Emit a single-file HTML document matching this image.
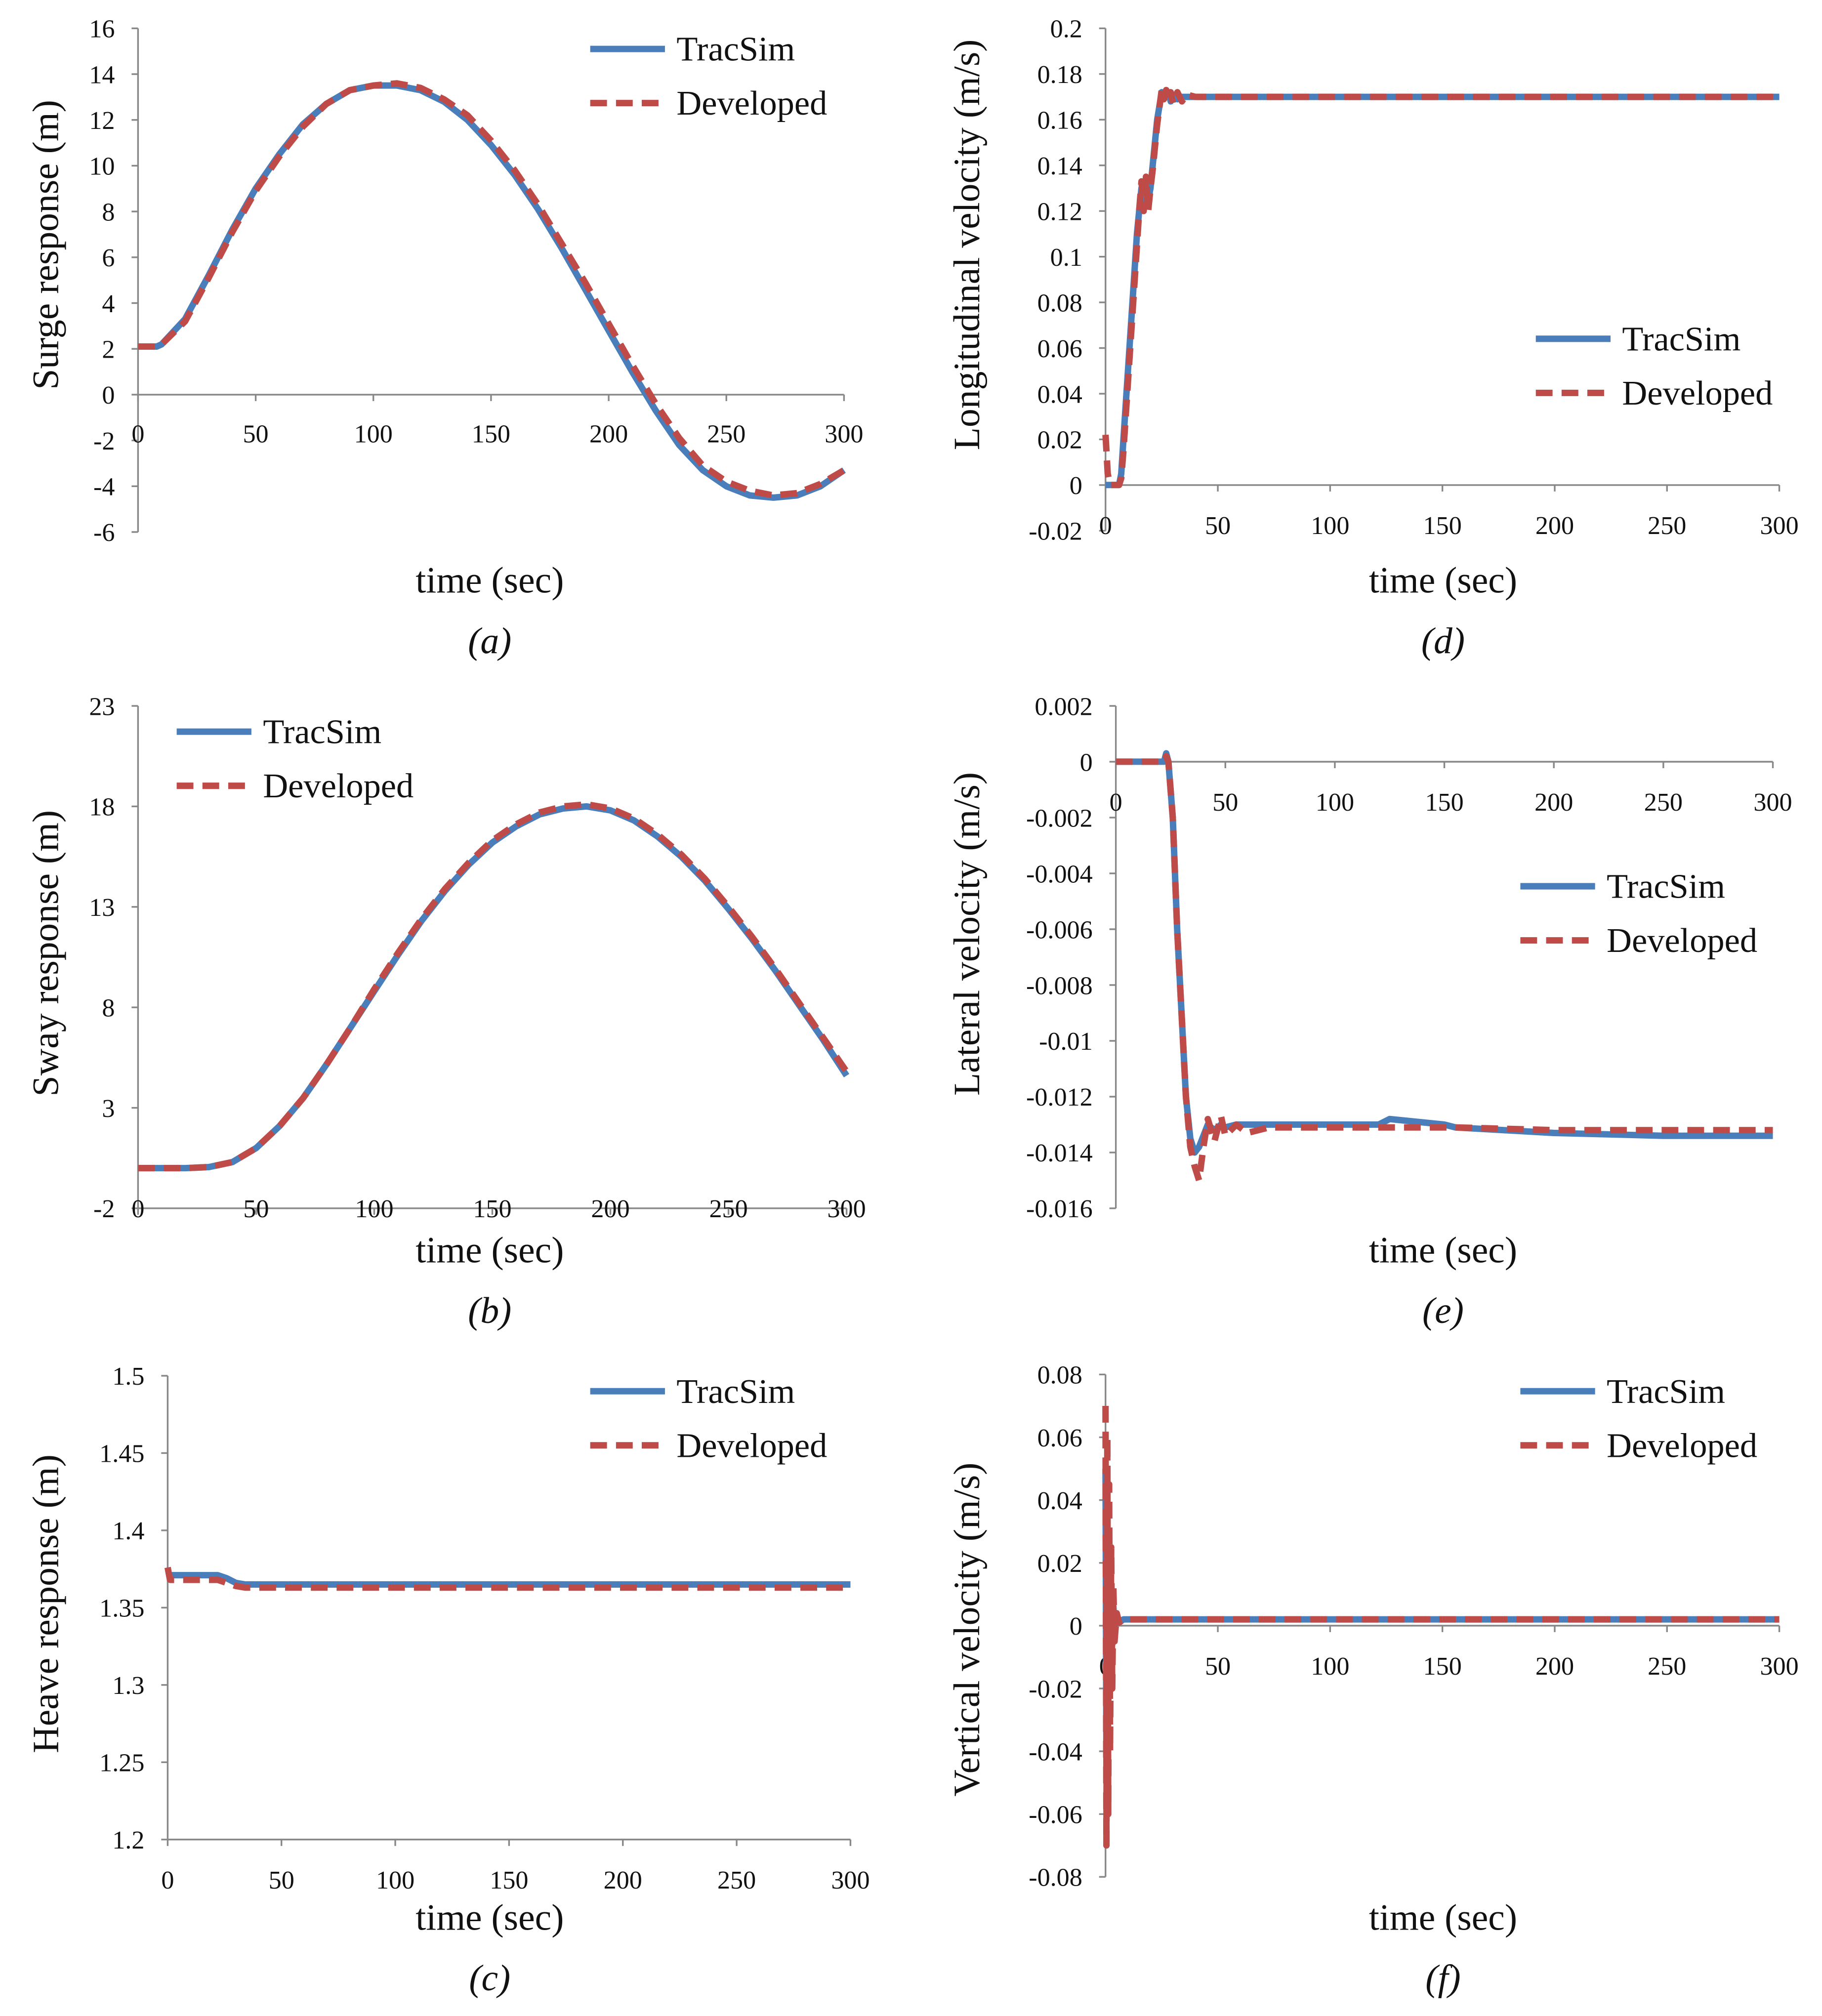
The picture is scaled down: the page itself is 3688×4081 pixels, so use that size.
<!DOCTYPE html>
<html><head><meta charset="utf-8"><style>
html,body{margin:0;padding:0;background:#fff}
svg{display:block}
text{font-family:"Liberation Serif",serif;fill:#111}
.tick{font-size:20px}
.title{font-size:29px}
.leg{font-size:27px}
</style></head><body>
<svg id="fig" width="3688" height="4081" viewBox="0 0 1414 1565" xmlns="http://www.w3.org/2000/svg"></svg>
<script>
// ---- data ----
const surgeT=[0,8,10,20,30,40,50,60,70,80,90,100,110,120,130,140,150,160,170,180,190,200,210,220,230,240,250,260,270,280,290,300];
const surgeTrac=[2.1,2.1,2.2,3.3,5.2,7.2,9.0,10.5,11.8,12.7,13.3,13.5,13.5,13.3,12.8,12.0,10.9,9.6,8.1,6.4,4.6,2.8,1.0,-0.7,-2.2,-3.3,-4.0,-4.4,-4.5,-4.4,-4.0,-3.3];
const surgeDev=[2.1,2.1,2.2,3.2,5.1,7.1,8.9,10.4,11.7,12.7,13.3,13.5,13.6,13.4,12.9,12.2,11.1,9.8,8.3,6.6,4.9,3.1,1.3,-0.4,-1.9,-3.1,-3.8,-4.2,-4.4,-4.3,-3.9,-3.3];
const swayT=[0,10,20,30,40,50,60,70,80,90,100,110,120,130,140,150,160,170,180,190,200,210,220,230,240,250,260,270,280,290,300];
const swayTrac=[0,0,0,0.05,0.3,1.0,2.1,3.5,5.2,7.0,8.8,10.6,12.3,13.8,15.1,16.2,17.0,17.6,17.9,18.0,17.8,17.3,16.5,15.5,14.3,12.9,11.4,9.8,8.1,6.4,4.6];
const swayDev=[0,0,0,0.05,0.3,1.0,2.1,3.5,5.2,7.0,8.9,10.7,12.4,13.9,15.2,16.3,17.1,17.7,18.0,18.1,17.9,17.4,16.6,15.6,14.4,13.0,11.5,9.9,8.2,6.5,4.8];
const heaveT=[0,1,2,22,26,30,34,300];
const heaveTrac=[1.37,1.371,1.371,1.371,1.369,1.366,1.365,1.365];
const heaveDev=[1.376,1.368,1.368,1.368,1.366,1.364,1.363,1.363];
const lonT=[0,1,2,4,6,7,8,10,12,14,15,16,17,18,19,20,21,23,25,26,27,28,29,30,32,34,36,40,300];
const lonTrac=[0,0,0,0,0,0.005,0.02,0.05,0.08,0.11,0.12,0.13,0.125,0.13,0.125,0.13,0.14,0.16,0.172,0.171,0.17,0.172,0.168,0.171,0.169,0.17,0.17,0.17,0.17];
const lonDev=[0.022,0.005,0,0,0,0.003,0.015,0.045,0.075,0.105,0.12,0.133,0.12,0.135,0.12,0.13,0.138,0.158,0.173,0.169,0.173,0.168,0.172,0.167,0.172,0.168,0.171,0.17,0.17];
const latT=[0,22,23,24,26,28,30,32,34,36,38,40,42,45,48,50,55,60,70,100,120,125,150,155,200,250,300];
const latTrac=[0,0,0.0003,0,-0.002,-0.006,-0.009,-0.012,-0.0135,-0.014,-0.0138,-0.0134,-0.013,-0.0132,-0.013,-0.0131,-0.013,-0.013,-0.013,-0.013,-0.013,-0.0128,-0.013,-0.0131,-0.0133,-0.0134,-0.0134];
const latDev=[0,0,0.0002,0,-0.002,-0.006,-0.009,-0.012,-0.0138,-0.0145,-0.015,-0.0138,-0.0128,-0.0136,-0.0127,-0.0134,-0.013,-0.0133,-0.0131,-0.0131,-0.0131,-0.0131,-0.0131,-0.0131,-0.0132,-0.0132,-0.0132];
const vertT=[0,0.4,0.8,1.2,1.6,2,2.5,3,3.5,4,5,6,8,300];
const vertTrac=[0.05,-0.045,0.04,-0.03,0.025,-0.015,0.012,-0.006,0.006,0,0.002,0.001,0.002,0.002];
const vertDev=[0.07,-0.07,0.06,-0.06,0.045,-0.04,0.025,-0.02,0.012,-0.005,0.004,0.001,0.002,0.002];
const xTicks=[0,50,100,150,200,250,300];
const surgeYTicks=[16,14,12,10,8,6,4,2,0,-2,-4,-6];
const swayYTicks=[23,18,13,8,3,-2];
const heaveYTicks=[1.5,1.45,1.4,1.35,1.3,1.25,1.2];
const lonYTicks=[0.2,0.18,0.16,0.14,0.12,0.1,0.08,0.06,0.04,0.02,0,-0.02];
const latYTicks=[0.002,0,-0.002,-0.004,-0.006,-0.008,-0.01,-0.012,-0.014,-0.016];
const vertYTicks=[0.08,0.06,0.04,0.02,0,-0.02,-0.04,-0.06,-0.08];

const NS="http://www.w3.org/2000/svg";
const svg=document.getElementById('fig');
function mk(tag,attrs,parent){const e=document.createElementNS(NS,tag);for(const k in attrs)e.setAttribute(k,attrs[k]);(parent||svg).appendChild(e);return e;}
function txt(s,attrs,parent){const e=mk('text',attrs,parent);e.textContent=s;return e;}

function panel(p){
  const g=mk('g',{});
  
  
  const ymin=p.yt[p.yt.length-1],ymax=p.yt[0];
  const X=v=>p.x0+(v/300)*(p.x1-p.x0);
  const Y=v=>p.yb-(v-ymin)/(ymax-ymin)*(p.yb-p.ytop);
  const ya=mk('line',{x1:p.x0,x2:p.x0,y1:p.ytop,y2:p.yb,stroke:'#888','stroke-width':1.3},g);
  
  const xay=Y(p.xAxisVal);
  const xa=mk('line',{x1:p.x0,x2:p.x1,y1:xay,y2:xay,stroke:'#888','stroke-width':1.3},g);
  
  p.yt.forEach(v=>{
    mk('line',{x1:p.x0-5,x2:p.x0,y1:Y(v),y2:Y(v),stroke:'#888','stroke-width':1.3},g);
    const t=txt(String(v),{x:p.x0-18,y:Y(v)+7,'text-anchor':'end',class:'tick'},g);
    
  });
  xTicks.forEach(v=>{
    mk('line',{x1:X(v),x2:X(v),y1:xay,y2:xay+5,stroke:'#888','stroke-width':1.3},g);
    const t=txt(String(v),{x:X(v),y:xay+p.lblOff,'text-anchor':'middle',class:'tick'},g);
    
  });
  const yt=txt(p.ytitle,{x:0,y:0,'text-anchor':'middle',class:'title',transform:`translate(${p.ytx},${p.yty}) rotate(-90)`},g);
  
  const xt=txt('time (sec)',{x:p.cx,y:p.tty,'text-anchor':'middle',class:'title'},g);
  
  const cap=txt(p.cap,{x:p.cx,y:p.tty+47,'text-anchor':'middle',class:'title','font-style':'italic'},g);
  
  const pts=(T,V)=>T.map((t,i)=>X(t).toFixed(1)+','+Y(V[i]).toFixed(1)).join(' ');
  const l1=mk('polyline',{points:pts(p.t,p.a),fill:'none',stroke:'#4a7ebb','stroke-width':5,'stroke-linejoin':'round'},g);
  
  const l2=mk('polyline',{points:pts(p.t,p.b),fill:'none',stroke:'#be4b48','stroke-width':5,'stroke-dasharray':'13,7','stroke-linejoin':'round'},g);
  
  const [lx,ly]=p.leg;
  const e1=mk('g',{},g);
  mk('line',{x1:lx,x2:lx+58,y1:ly,y2:ly,stroke:'#4a7ebb','stroke-width':5},e1);
  txt('TracSim',{x:lx+67,y:ly+9,class:'leg'},e1);
  const e2=mk('g',{},g);
  mk('line',{x1:lx,x2:lx+58,y1:ly+42,y2:ly+42,stroke:'#be4b48','stroke-width':5,'stroke-dasharray':'13,7'},e2);
  txt('Developed',{x:lx+67,y:ly+51,class:'leg'},e2);
}
panel({name:'surge',x0:107,x1:655,ytop:22,yb:413,yt:surgeYTicks,xAxisVal:0,lblOff:37,ytitle:'Surge response (m)',ytx:45,yty:190,cx:380,tty:460,cap:'(a)',t:surgeT,a:surgeTrac,b:surgeDev,leg:[458,38]});
panel({name:'sway',x0:107,x1:657,ytop:548,yb:938,yt:swayYTicks,xAxisVal:-2,lblOff:7,ytitle:'Sway response (m)',ytx:45,yty:740,cx:380,tty:980,cap:'(b)',t:swayT,a:swayTrac,b:swayDev,leg:[137,568]});
panel({name:'heave',x0:130,x1:660,ytop:1068,yb:1428,yt:heaveYTicks,xAxisVal:1.2,lblOff:38,ytitle:'Heave response (m)',ytx:45,yty:1245,cx:380,tty:1498,cap:'(c)',t:heaveT,a:heaveTrac,b:heaveDev,leg:[458,1080]});
panel({name:'longitudinal-velocity',x0:858,x1:1381,ytop:22,yb:412,yt:lonYTicks,xAxisVal:0,lblOff:38,ytitle:'Longitudinal velocity (m/s)',ytx:760,yty:190,cx:1120,tty:460,cap:'(d)',t:lonT,a:lonTrac,b:lonDev,leg:[1192,263]});
panel({name:'lateral-velocity',x0:866,x1:1376,ytop:548,yb:938,yt:latYTicks,xAxisVal:0,lblOff:38,ytitle:'Lateral velocity (m/s)',ytx:760,yty:725,cx:1120,tty:980,cap:'(e)',t:latT,a:latTrac,b:latDev,leg:[1180,688]});
panel({name:'vertical-velocity',x0:858,x1:1381,ytop:1067,yb:1457,yt:vertYTicks,xAxisVal:0,lblOff:38,ytitle:'Vertical velocity (m/s)',ytx:760,yty:1265,cx:1120,tty:1498,cap:'(f)',t:vertT,a:vertTrac,b:vertDev,leg:[1180,1080]});
</script>
</body></html>
